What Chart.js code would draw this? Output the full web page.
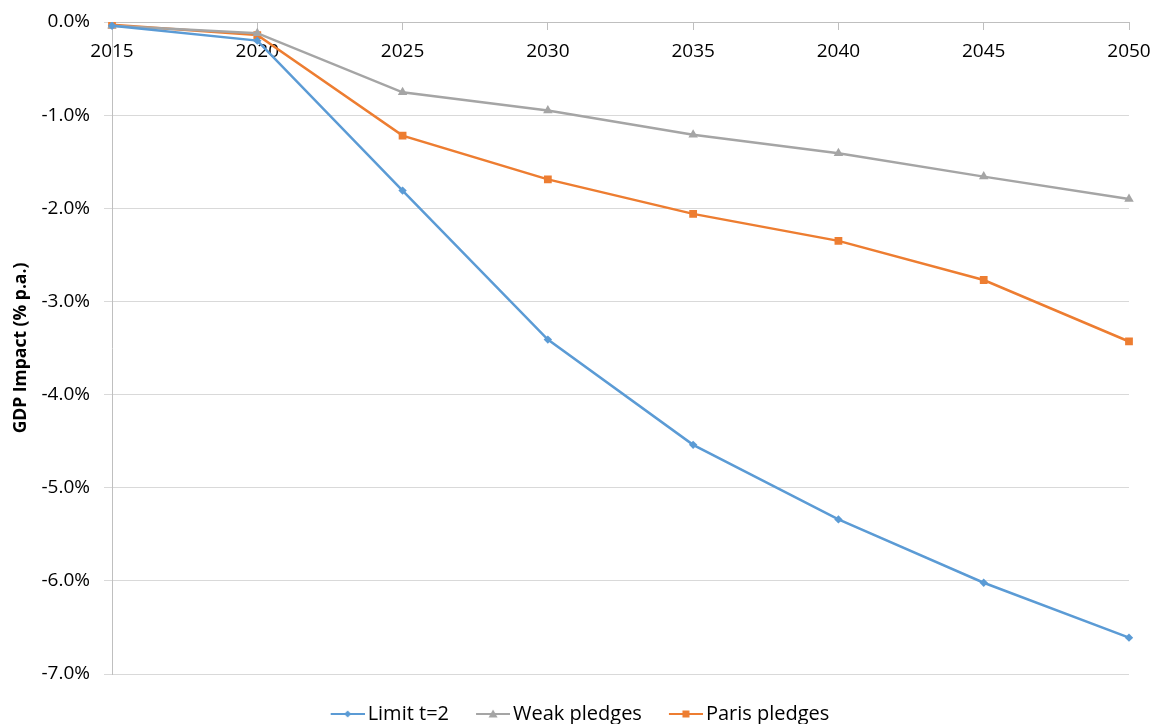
<!DOCTYPE html>
<html>
<head>
<meta charset="utf-8">
<script src="https://cdn.jsdelivr.net/npm/chart.js@4.4.1/dist/chart.umd.min.js"></script>
<style>
  html, body { margin: 0; padding: 0; background: #ffffff; }
  #wrap { width: 1153px; height: 724px; }
</style>
</head>
<body>
<div id="wrap"><canvas id="c" width="1153" height="724"></canvas></div>
<script>
// Years on the category axis
const years = ['2015', '2020', '2025', '2030', '2035', '2040', '2045', '2050'];

// GDP impact, % per annum
const limitT2 = [-0.04, -0.20, -1.81, -3.41, -4.54, -5.34, -6.02, -6.61];
const weakPledges = [-0.04, -0.12, -0.755, -0.95, -1.21, -1.41, -1.66, -1.90];
const parisPledges = [-0.03, -0.14, -1.22, -1.69, -2.06, -2.35, -2.77, -3.43];

// Value axis range and step
const yMin = -7;
const yMax = 0;
const yStep = 1;

const BLUE = '#5B9BD5';
const GREY = '#A5A5A5';
const ORANGE = '#ED7D31';
const FONT = "'Open Sans', 'Liberation Sans', sans-serif";

// Legend swatch: a short line with the series marker in the middle
function swatch(color, shape) {
  const c = document.createElement('canvas');
  c.width = 38; c.height = 12;
  const g = c.getContext('2d');
  const x0 = 4, x1 = 38, m = (x0 + x1) / 2;
  g.strokeStyle = color; g.lineWidth = 2;
  g.beginPath(); g.moveTo(x0, 6); g.lineTo(x1, 6); g.stroke();
  g.fillStyle = color;
  g.beginPath();
  if (shape === 'diamond') {
    g.moveTo(m, 2.5); g.lineTo(m + 3.5, 6); g.lineTo(m, 9.5); g.lineTo(m - 3.5, 6);
  } else if (shape === 'triangle') {
    g.moveTo(m, 1.5); g.lineTo(m + 4.5, 9.5); g.lineTo(m - 4.5, 9.5);
  } else {
    g.rect(m - 3.5, 2.5, 7, 7);
  }
  g.closePath(); g.fill();
  return c;
}

const series = [
  { label: 'Limit t=2', data: limitT2, color: BLUE, style: 'rectRot', radius: 4.2, legend: swatch(BLUE, 'diamond') },
  { label: 'Weak pledges', data: weakPledges, color: GREY, style: 'triangle', radius: 5.5, legend: swatch(GREY, 'triangle') },
  { label: 'Paris pledges', data: parisPledges, color: ORANGE, style: 'rect', radius: 5.5, legend: swatch(ORANGE, 'square') }
];

// Legend band: fixed height below the plot, centred under the plot area
const legendBand = {
  id: 'legendBand',
  beforeUpdate(chart) {
    const lg = chart.legend;
    if (lg && !lg._bandPatched) {
      const fit = lg.fit.bind(lg);
      lg.fit = function () { fit(); this.height = 50; };
      lg._bandPatched = true;
    }
  },
  afterLayout(chart) {
    const lg = chart.legend;
    if (lg) { lg.left += 17; lg.right += 17; }
  }
};

// Plot edges come from layout padding only, not from tick label overhang
const noOverhang = s => {
  s.paddingLeft = 0; s.paddingRight = 0; s.paddingTop = 0; s.paddingBottom = 0;
};

new Chart(document.getElementById('c'), {
  type: 'line',
  data: {
    labels: years,
    datasets: series.map(s => ({
      label: s.label,
      data: s.data,
      borderColor: s.color,
      backgroundColor: s.color,
      borderWidth: 2.5,
      pointStyle: s.style,
      pointRadius: s.radius,
      pointBorderWidth: 0,
      pointBackgroundColor: s.color,
      tension: 0,
      legendImage: s.legend
    }))
  },
  plugins: [legendBand],
  options: {
    responsive: false,
    animation: false,
    devicePixelRatio: 1,
    layout: { padding: { left: 0, right: 24, top: 22, bottom: 0 } },
    plugins: {
      tooltip: { enabled: false },
      legend: {
        position: 'bottom',
        labels: {
          usePointStyle: true,
          pointStyleWidth: 24,
          padding: 30,
          color: '#000000',
          font: { family: FONT, size: 20 },
          generateLabels: chart => chart.data.datasets.map((d, i) => ({
            text: d.label,
            pointStyle: d.legendImage,
            fillStyle: d.borderColor,
            strokeStyle: d.borderColor,
            lineWidth: 0,
            hidden: false,
            datasetIndex: i
          }))
        }
      }
    },
    scales: {
      x: {
        type: 'category',
        position: { y: 0 },
        offset: false,
        afterFit: noOverhang,
        grid: { drawOnChartArea: false, color: '#BFBFBF', tickLength: 7, tickColor: '#BFBFBF' },
        border: { color: '#BFBFBF', width: 1 },
        ticks: { color: '#000000', font: { family: FONT, size: 19 }, padding: 11, maxRotation: 0 }
      },
      y: {
        min: yMin,
        max: yMax,
        afterFit: s => { s.width = 112; noOverhang(s); },
        grid: { color: '#D9D9D9', lineWidth: 1, tickLength: 8, tickColor: '#D9D9D9' },
        border: { color: '#BFBFBF', width: 1 },
        ticks: {
          stepSize: yStep,
          color: '#000000',
          font: { family: FONT, size: 19 },
          padding: 14,
          callback: v => v.toFixed(1) + '%'
        },
        title: {
          display: true,
          text: 'GDP Impact (% p.a.)',
          color: '#000000',
          font: { family: FONT, size: 17.5, weight: 'bold' },
          padding: { top: 10.5, bottom: 0 }
        }
      }
    }
  }
});
</script>
</body>
</html>
